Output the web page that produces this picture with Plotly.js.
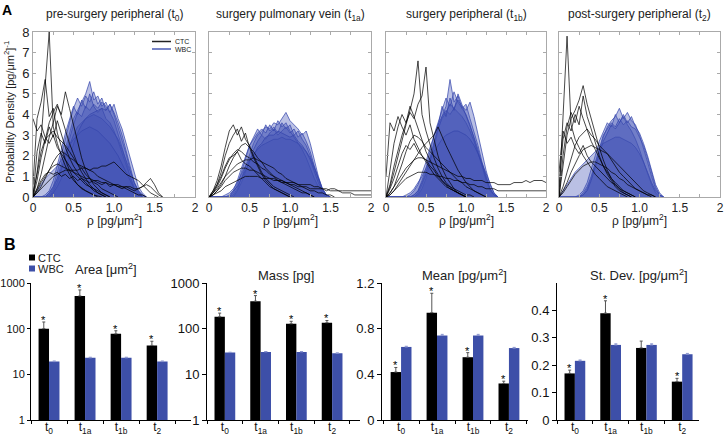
<!DOCTYPE html>
<html><head><meta charset="utf-8">
<script src="https://cdn.plot.ly/plotly-3.0.1.min.js"></script>
<style>html,body{margin:0;padding:0;background:#fff}#chart{width:724px;height:436px}</style>
</head><body><div id="chart"></div>
<script>
// ---------- Panel A data: density curves on a shared rho grid ----------
const rho = [0,0.05,0.1,0.15,0.2,0.25,0.3,0.35,0.4,0.45,0.5,0.55,0.6,0.65,0.7,0.75,0.8,0.85,0.9,0.95,1,1.05,1.1,1.15,1.2,1.25,1.3,1.35,1.4,1.45,1.5,1.55,1.6,1.65,1.7,1.75,1.8,1.85,1.9,1.95,2];
const rhoTicks = [0, 0.5, 1, 1.5, 2];
const rhoTickText = ['0', '0.5', '1.0', '1.5', '2'];

const panelTitles = ['pre-surgery peripheral (t<sub>0</sub>)','surgery pulmonary vein (t<sub>1a</sub>)','surgery peripheral (t<sub>1b</sub>)','post-surgery peripheral (t<sub>2</sub>)'];

const preCTC = [
 [0,1.2,2.8,5.5,8,3.4,2.6,2.0,1.5,1.1,0.8,0.6,0.45,0.3,0.2,0.1,0.05,0],
 [0.6,3.8,4.6,5.7,3.9,4.3,3.1,2.4,1.8,1.3,0.9,0.6,0.4,0.3,0.2,0.1,0],
 [0,0.4,1.1,2.0,2.9,3.6,4.4,4.0,5.1,4.3,3.5,2.6,1.9,1.3,0.9,0.6,0.4,0.2,0.1,0],
 [3.8,3.2,3.5,2.9,2.6,3.0,2.4,2.1,1.8,1.5,1.2,1.0,0.8,0.6,0.5,0.4,0.3,0.2,0.1,0],
 [0,0.8,1.9,2.8,3.6,4.1,4.5,3.9,3.2,2.6,2.1,1.6,1.2,0.9,0.6,0.4,0.2,0.1,0],
 [0,0.3,0.7,1.0,1.3,1.5,1.6,1.5,1.4,1.3,1.2,1.1,1.0,0.9,0.9,0.8,0.8,0.7,0.7,0.6,0.6,0.6,0.5,0.5,0.5,0.4,0.4,0.5,0.6,0.5,0.3,0.1,0],
 [0,0.2,0.5,0.9,1.3,1.7,2.0,2.2,2.1,1.9,1.8,1.6,1.5,1.4,1.3,1.2,1.0,0.9,0.8,0.7,0.6,0.5,0.5,0.4,0.3,0.2,0.1,0.1,0],
 [0.2,1.1,2.2,2.8,3.0,3.2,2.9,2.7,2.5,2.2,1.9,1.6,1.4,1.1,0.9,0.7,0.6,0.4,0.3,0.2,0.1,0],
 [0,0.4,0.8,1.1,1.2,1.1,1.2,1.0,1.1,0.9,1.0,0.8,0.9,0.8,0.7,0.8,0.7,0.6,0.7,0.5,0.6,0.5,0.4,0.5,0.4,0.3,0.4,0.5,0.7,0.9,0.6,0.2,0],
 [0,0.2,0.4,0.6,0.8,1.0,1.1,1.2,1.3,1.3,1.3,1.3,1.4,1.4,1.3,1.4,1.4,1.5,1.5,1.6,1.7,1.5,1.3,1.1,1.0,0.9,0.8,0.6,0.4,0.2,0.1,0],
 [0,2.2,3.1,2.6,3.4,2.9,3.7,3.0,2.4,1.9,1.5,1.2,0.9,0.7,0.5,0.3,0.2,0.1,0]
];
const preWBC = [
 [0,0,0,0,0.1,0.4,0.9,1.6,2.4,3.1,3.8,4.2,4.6,5.0,5.6,4.7,4.9,4.4,4.6,4.1,3.7,3.1,2.4,1.7,1.0,0.5,0.2,0],
 [0,0,0,0,0.2,0.5,1.2,2.0,2.9,3.6,4.3,4.8,4.4,4.9,4.6,5.1,4.5,4.8,4.2,4.5,4.0,3.4,2.8,2.1,1.3,0.7,0.3,0.1,0],
 [0,0,0,0,0,0.3,0.7,1.3,2.1,2.8,3.5,4.1,3.9,4.4,4.2,4.5,4.3,4.6,4.4,4.1,4.5,3.8,3.3,2.6,1.9,1.1,0.5,0.2,0],
 [0,0,0,0.1,0.3,0.8,1.5,2.3,3.1,3.8,4.4,4.0,4.7,4.3,5.0,4.4,4.1,4.3,3.8,3.6,3.2,2.7,2.1,1.5,0.9,0.4,0.1,0],
 [0,0,0,0,0.2,0.5,0.9,1.4,1.9,2.5,3.0,3.4,3.6,3.8,3.9,4.0,3.9,3.8,3.6,3.4,3.1,2.8,2.3,1.8,1.2,0.7,0.3,0.1,0],
 [0,0,0,0,0,0.2,0.5,0.9,1.4,2.0,2.6,3.1,3.5,3.8,4.0,4.1,4.2,4.3,4.2,4.5,4.1,3.6,3.0,2.2,1.4,0.7,0.3,0],
 [0,0.3,0.6,0.9,1.1,1.3,1.5,1.8,2.1,2.5,2.8,3.0,3.2,3.3,3.4,3.3,3.2,3.0,2.8,2.6,2.3,2.0,1.6,1.2,0.8,0.4,0.2,0]
];

const pvCTC = [
 [0,0.3,0.8,1.5,2.4,3.2,3.5,3.0,3.4,2.8,2.5,2.0,1.6,1.2,0.9,0.7,0.5,0.4,0.3,0.2,0.1,0],
 [0,0.2,0.6,1.2,2.0,2.6,3.0,3.3,2.7,3.1,2.4,1.9,1.5,1.1,0.8,0.6,0.4,0.3,0.2,0.1,0],
 [0,0.2,0.5,0.9,1.4,1.8,2.1,2.3,2.2,2.0,1.9,1.7,1.6,1.4,1.3,1.1,1.0,0.9,0.8,0.7,0.6,0.5,0.4,0.3,0.2,0.1,0],
 [0,0.1,0.3,0.5,0.8,1.0,1.2,1.3,1.4,1.4,1.3,1.3,1.2,1.1,1.0,0.9,0.9,0.8,0.7,0.7,0.6,0.6,0.5,0.5,0.5,0.4,0.4,0.4,0.4,0.3,0.4,0.4,0.3,0.3,0.3,0.3,0.3,0.3,0.3,0.3,0.3],
 [0,0.1,0.3,0.6,1.0,1.5,1.9,2.2,2.5,2.6,2.4,2.2,1.9,1.7,1.4,1.2,1.0,0.8,0.7,0.6,0.5,0.4,0.3,0.2,0.2,0.1,0],
 [0,0.2,0.4,0.7,1.0,1.2,1.4,1.6,1.7,1.8,1.8,1.9,1.8,1.7,1.6,1.5,1.4,1.2,1.1,0.9,0.8,0.7,0.6,0.5,0.4,0.3,0.3,0.2,0.2,0.1,0.1,0],
 [0,0.1,0.2,0.3,0.5,0.6,0.7,0.8,0.9,1.0,1.0,1.0,1.0,0.9,0.9,0.9,0.8,0.8,0.8,0.7,0.7,0.7,0.6,0.6,0.6,0.6,0.5,0.5,0.4,0.4,0.3,0.3,0.3,0.2,0.2,0.2,0.1,0.1,0.1,0.1,0.1],
 [0,0.3,0.6,1.0,1.5,1.9,2.0,2.2,1.8,1.6,1.5,1.3,1.1,0.9,0.7,0.5,0.4,0.3,0.2,0.1,0]
];
const pvWBC = [
 [0,0,0,0,0,0,0.1,0.4,0.9,1.5,2.1,2.6,3.0,3.2,3.4,3.3,3.6,3.5,3.8,4.1,3.7,3.5,3.3,3.0,3.2,2.6,1.8,1.0,0.4,0.1,0],
 [0,0,0,0,0,0,0.2,0.6,1.2,1.9,2.5,2.9,3.3,3.0,3.5,3.2,3.4,3.1,3.6,3.3,3.5,3.0,3.2,2.8,2.5,2.0,1.4,0.8,0.3,0.1,0],
 [0,0,0,0,0,0,0,0.3,0.7,1.2,1.8,2.3,2.7,3.0,2.8,3.1,3.3,3.0,3.2,3.4,3.1,3.3,2.9,3.1,2.7,2.2,1.5,0.9,0.4,0.1,0],
 [0,0,0,0,0,0,0.3,0.8,1.4,2.0,2.5,2.8,3.1,3.3,3.1,3.5,3.2,3.7,3.4,3.6,3.2,2.9,2.6,2.3,1.9,1.4,0.9,0.5,0.2,0],
 [0,0,0,0,0.1,0.2,0.4,0.7,1.1,1.5,1.8,2.1,2.3,2.5,2.6,2.7,2.8,2.8,2.9,2.8,2.8,2.7,2.6,2.4,2.2,1.9,1.4,0.9,0.4,0.1,0],
 [0,0,0,0,0,0.1,0.3,0.5,0.9,1.3,1.7,2.0,2.4,2.6,2.9,3.0,3.0,3.2,3.1,3.0,2.9,3.0,2.7,2.5,2.2,1.8,1.2,0.7,0.3,0.1,0]
];

const periCTC = [
 [0,0.5,1.2,2.0,2.8,3.5,4.2,5.0,6.6,4.0,3.2,2.5,1.9,1.4,1.0,0.7,0.5,0.3,0.2,0.1,0],
 [0,0.6,1.5,2.3,3.0,3.6,4.1,3.8,4.5,4.9,6.3,3.6,2.8,2.0,1.4,1.0,0.7,0.4,0.2,0.1,0],
 [1.0,3.6,3.2,3.9,3.4,3.0,3.5,2.8,2.4,2.0,1.7,1.4,1.1,0.9,0.7,0.5,0.4,0.3,0.2,0.1,0],
 [0,1.2,2.6,3.4,4.0,3.6,4.4,3.9,3.3,2.7,2.2,1.8,1.4,1.1,0.8,0.6,0.4,0.3,0.2,0.1,0],
 [0,0.2,0.5,0.8,1.1,1.4,1.6,1.8,1.9,1.9,1.8,1.7,1.6,1.5,1.4,1.3,1.2,1.1,1.0,1.0,0.9,0.9,0.8,0.8,0.8,0.7,0.7,0.7,0.6,0.6,0.6,0.6,0.7,0.7,0.7,0.8,0.7,0.8,0.8,0.8,0.7],
 [0,0.2,0.5,1.0,1.6,2.2,2.7,3.0,2.9,2.7,2.4,2.2,2.0,1.8,1.6,1.4,1.2,1.0,0.8,0.7,0.5,0.4,0.3,0.2,0.1,0],
 [0,0.1,0.3,0.5,0.7,0.9,1.0,1.1,1.2,1.2,1.2,1.1,1.1,1.0,1.0,0.9,0.9,0.8,0.8,0.7,0.7,0.6,0.6,0.5,0.5,0.4,0.4,0.4,0.3,0.3,0.3,0.3,0.3,0.3,0.3,0.3,0.3,0.3,0.3,0.3,0.3],
 [0,0.4,0.9,1.5,2.1,2.5,2.3,2.6,2.2,2.0,1.8,1.5,1.3,1.0,0.8,0.6,0.5,0.4,0.3,0.2,0.1,0.1,0],
 [0,0.1,0.3,0.6,0.9,1.2,1.5,1.8,2.1,2.4,2.6,2.8,3.0,3.4,2.9,2.5,2.1,1.7,1.3,1.0,0.7,0.5,0.3,0.2,0.1,0]
];
const periWBC = [
 [0,0,0,0,0,0,0,0,0.1,0.4,0.9,1.6,2.4,3.2,3.9,4.4,5.7,4.6,4.9,4.3,4.5,3.8,3.2,2.5,1.7,1.0,0.4,0.1,0],
 [0,0,0,0,0,0,0,0.1,0.3,0.8,1.4,2.2,3.0,3.6,4.2,4.8,4.4,5.1,4.6,4.3,4.0,3.5,2.8,2.1,1.4,0.8,0.3,0.1,0],
 [0,0,0,0,0,0,0,0,0.2,0.6,1.1,1.8,2.6,3.3,3.8,4.1,4.5,4.3,4.7,4.4,4.2,4.6,3.9,3.0,2.1,1.3,0.6,0.2,0],
 [0,0,0,0,0,0,0.1,0.3,0.6,1.1,1.7,2.4,3.0,3.5,3.9,4.2,4.0,4.3,4.1,3.9,3.6,3.2,2.7,2.1,1.5,0.9,0.4,0.1,0],
 [0,0,0,0,0,0,0,0.1,0.3,0.7,1.2,1.9,2.7,3.4,4.4,3.9,4.8,4.2,5.0,4.5,3.9,3.4,2.9,2.3,1.6,0.9,0.4,0.1,0],
 [0,0,0,0,0,0.1,0.2,0.4,0.7,1.0,1.4,1.8,2.2,2.5,2.8,3.0,3.1,3.2,3.2,3.1,3.0,2.8,2.5,2.1,1.6,1.1,0.6,0.2,0]
];

const postCTC = [
 [0,4.0,7.8,3.5,2.8,2.4,2.0,1.7,1.4,1.1,0.9,0.7,0.5,0.4,0.3,0.2,0.1,0],
 [0,1.5,3.0,3.8,4.2,4.7,5.4,4.5,3.8,3.0,2.4,1.8,1.3,0.9,0.6,0.4,0.2,0.1,0],
 [0.5,2.8,3.6,3.2,4.0,3.5,4.9,3.9,3.3,2.6,2.0,1.5,1.1,0.8,0.5,0.3,0.2,0.1,0],
 [0,2.0,3.4,4.1,3.6,4.4,3.8,3.2,2.7,2.3,1.9,1.5,1.2,0.9,0.7,0.5,0.3,0.2,0.1,0],
 [0,0.5,1.2,1.9,2.5,2.9,3.1,3.3,3.0,2.8,2.5,2.3,2.1,1.8,1.5,1.2,1.0,0.8,0.6,0.4,0.3,0.2,0.1,0],
 [0,0.3,0.7,1.2,1.6,2.0,2.3,2.4,2.5,2.4,2.3,2.2,2.1,1.9,1.7,1.5,1.3,1.1,0.9,0.7,0.5,0.3,0.2,0.1,0],
 [1.2,3.2,2.6,2.9,2.4,2.1,2.5,2.0,1.7,1.5,1.3,1.1,0.9,0.7,0.6,0.4,0.3,0.2,0.1,0],
 [0,0.2,0.5,0.8,1.1,1.3,1.5,1.6,1.7,1.7,1.6,1.5,1.4,1.2,1.1,0.9,0.8,0.6,0.5,0.4,0.3,0.2,0.1,0.1,0]
];
const postWBC = [
 [0,0,0,0,0,0,0.1,0.4,0.9,1.6,2.3,2.9,3.4,3.7,3.9,4.3,3.8,4.1,3.7,3.5,3.0,2.4,1.7,1.0,0.4,0.1,0],
 [0,0,0,0,0,0.1,0.3,0.7,1.3,2.0,2.7,3.2,3.6,3.4,4.0,3.6,3.9,3.5,3.2,2.8,2.3,1.7,1.1,0.6,0.2,0],
 [0,0,0,0,0,0,0.2,0.5,1.0,1.7,2.4,3.0,3.3,3.6,3.4,3.8,3.5,3.7,3.4,3.3,2.9,2.5,1.9,1.2,0.5,0.1,0],
 [0,0.3,0.6,0.9,1.2,1.4,1.6,1.8,2.0,2.2,2.4,2.6,2.7,2.8,2.9,2.9,2.8,2.7,2.6,2.4,2.1,1.7,1.2,0.7,0.3,0.1,0],
 [0,0,0,0,0,0,0.1,0.3,0.8,1.4,2.1,2.7,3.1,3.5,3.3,3.6,4.0,3.6,3.9,3.4,3.1,2.6,2.0,1.3,0.6,0.2,0]
];

// ---------- Panel B data ----------
const timepoints = ['t<sub>0</sub>','t<sub>1a</sub>','t<sub>1b</sub>','t<sub>2</sub>'];
const areaCTC = [100, 520, 77, 43];
const areaCTCerr = [40, 185, 13, 10];
const areaWBC = [19, 23, 23, 19];
const areaWBCerr = [0.6, 0.7, 0.7, 0.6];
const areaStar = [1, 1, 1, 1];
const massCTC = [182, 400, 128, 135];
const massCTCerr = [37, 130, 17, 16];
const massWBC = [30, 31, 31, 29];
const massWBCerr = [0.5, 0.6, 0.6, 0.5];
const massStar = [1, 1, 1, 1];
const meanCTC = [0.42, 0.94, 0.55, 0.32];
const meanCTCerr = [0.04, 0.17, 0.04, 0.02];
const meanWBC = [0.64, 0.74, 0.74, 0.63];
const meanWBCerr = [0.006, 0.01, 0.01, 0.006];
const meanStar = [1, 1, 1, 1];
const sdCTC = [0.17, 0.39, 0.263, 0.14];
const sdCTCerr = [0.012, 0.045, 0.025, 0.012];
const sdWBC = [0.216, 0.274, 0.274, 0.24];
const sdWBCerr = [0.003, 0.004, 0.004, 0.003];
const sdStar = [1, 1, 0, 1];
const barTitles = ['Area [μm<sup>2</sup>]','Mass [pg]','Mean [pg/μm<sup>2</sup>]','St. Dev. [pg/μm<sup>2</sup>]'];

// ---------- build ----------
const FONT = 'Liberation Sans, Arial, Helvetica, sans-serif';
const CTC_LINE = 'rgba(0,0,0,0.8)';
const WBC_LINE = 'rgba(52,68,172,0.9)';
const WBC_FILL = 'rgba(64,80,180,0.36)';
const BAR_BLUE = '#3d4fa8';
const BARGAP = 0.42;
const W = 724, H = 436;
const px = v => v / W, py = v => 1 - v / H;

const traces = [];
const panelsA = [[preCTC, preWBC],[pvCTC, pvWBC],[periCTC, periWBC],[postCTC, postWBC]];
panelsA.forEach((p, k) => {
  const xa = 'x' + (k ? k + 1 : ''), ya = 'y' + (k ? k + 1 : '');
  p[1].forEach(v => traces.push({type:'scatter', mode:'lines', x: rho.slice(0, v.length), y: v, xaxis: xa, yaxis: ya,
    line:{color: WBC_LINE, width: 0.8}, fill:'tozeroy', fillcolor: WBC_FILL, showlegend:false, hoverinfo:'skip'}));
  p[0].forEach(v => traces.push({type:'scatter', mode:'lines', x: rho.slice(0, v.length), y: v, xaxis: xa, yaxis: ya,
    line:{color: CTC_LINE, width: 0.9}, showlegend:false, hoverinfo:'skip'}));
});

const panelsB = [
  {c: areaCTC, ce: areaCTCerr, w: areaWBC, we: areaWBCerr, s: areaStar, log: true},
  {c: massCTC, ce: massCTCerr, w: massWBC, we: massWBCerr, s: massStar, log: true},
  {c: meanCTC, ce: meanCTCerr, w: meanWBC, we: meanWBCerr, s: meanStar, log: false},
  {c: sdCTC, ce: sdCTCerr, w: sdWBC, we: sdWBCerr, s: sdStar, log: false}
];
const annotations = [];
const zeros = [0,0,0,0];
panelsB.forEach((b, k) => {
  const n = k + 5, xa = 'x' + n, ya = 'y' + n;
  traces.push({type:'bar', name:'CTC', x: timepoints, y: b.c, xaxis: xa, yaxis: ya, marker:{color:'#000'},
    error_y:{type:'data', symmetric:false, array: b.ce, arrayminus: zeros, color:'#555', thickness:1, width:1.5},
    showlegend:false, hoverinfo:'skip'});
  traces.push({type:'bar', name:'WBC', x: timepoints, y: b.w, xaxis: xa, yaxis: ya, marker:{color: BAR_BLUE},
    error_y:{type:'data', symmetric:false, array: b.we, arrayminus: zeros, color:'#8d97cf', thickness:1, width:1.5},
    showlegend:false, hoverinfo:'skip'});
  const off = -(1 - BARGAP) / 4;
  b.s.forEach((s, i) => {
    if (!s) return;
    const top = b.c[i] + b.ce[i];
    annotations.push({xref: xa, yref: ya, x: i + off, y: b.log ? Math.log10(top) : top, text:'*', showarrow:false,
      xanchor:'center', yanchor:'bottom', yshift:-6, font:{size:11, color:'#000'}});
  });
});

// Panel titles, axis titles, panel letters
panelTitles.forEach((t, k) => annotations.push({xref: 'x' + (k ? k + 1 : '') + ' domain', yref:'paper', x:0.5, y: py(15),
  text: t, showarrow:false, font:{size:12, color:'#222'}, xanchor:'center', yanchor:'middle'}));
panelTitles.forEach((t, k) => annotations.push({xref: 'x' + (k ? k + 1 : '') + ' domain', yref:'paper', x:0.5, y: py(220),
  text: 'ρ [pg/μm<sup>2</sup>]', showarrow:false, font:{size:12, color:'#222'}, xanchor:'center', yanchor:'middle'}));
annotations.push({xref:'paper', yref:'paper', x: px(9), y: py(112), text:'Probability Density [pg/μm<sup>2</sup>]<sup>-1</sup>',
  textangle:-90, showarrow:false, xanchor:'center', yanchor:'middle', font:{size:11, color:'#222'}});
annotations.push({xref:'paper', yref:'paper', x: px(0), y: py(0), xanchor:'left', yanchor:'top', text:'<b>A</b>', showarrow:false, font:{size:14, color:'#000'}});
annotations.push({xref:'paper', yref:'paper', x: px(2), y: py(234), xanchor:'left', yanchor:'top', text:'<b>B</b>', showarrow:false, font:{size:16, color:'#000'}});
const titleB = [[106, 269],[286, 275],[464, 275],[639, 275]];
barTitles.forEach((t, k) => annotations.push({xref:'paper', yref:'paper', x: px(titleB[k][0]), y: py(titleB[k][1]), text: t,
  showarrow:false, font:{size:13, color:'#222'}, xanchor:'center', yanchor:'middle'}));
// Legends (A: lines, B: squares)
annotations.push({xref:'paper', yref:'paper', x: px(173), y: py(41.5), xanchor:'left', yanchor:'middle', text:'CTC', showarrow:false, font:{size:7, color:'#222'}});
annotations.push({xref:'paper', yref:'paper', x: px(173), y: py(49), xanchor:'left', yanchor:'middle', text:'WBC', showarrow:false, font:{size:7, color:'#222'}});
annotations.push({xref:'paper', yref:'paper', x: px(36), y: py(257.5), xanchor:'left', yanchor:'middle', text:'CTC', showarrow:false, font:{size:11, color:'#222'}});
annotations.push({xref:'paper', yref:'paper', x: px(36), y: py(268.5), xanchor:'left', yanchor:'middle', text:'WBC', showarrow:false, font:{size:11, color:'#222'}});
const shapes = [
  {type:'line', xref:'paper', yref:'paper', x0: px(152), x1: px(171), y0: py(41.5), y1: py(41.5), line:{color:'#222', width:1.5}},
  {type:'line', xref:'paper', yref:'paper', x0: px(152), x1: px(171), y0: py(49), y1: py(49), line:{color:'#4a5bb5', width:1.5}},
  {type:'rect', xref:'paper', yref:'paper', x0: px(29), x1: px(35), y0: py(254.5), y1: py(260.5), fillcolor:'#000', line:{width:0}},
  {type:'rect', xref:'paper', yref:'paper', x0: px(29), x1: px(35), y0: py(265.5), y1: py(271.5), fillcolor: BAR_BLUE, line:{width:0}}
];

// ---------- axes ----------
const aXdom = [[33,195],[209,371],[386,546],[559,720]];
const aYdom = [py(197), py(32)];
const layout = {
  width: W, height: H, margin:{l:0, r:0, t:0, b:0}, paper_bgcolor:'#fff', plot_bgcolor:'rgba(0,0,0,0)',
  font:{family: FONT, color:'#222'}, showlegend:false, hovermode:false, bargap: BARGAP, bargroupgap: 0,
  annotations, shapes
};
aXdom.forEach((d, k) => {
  const s = k ? k + 1 : '';
  layout['xaxis' + s] = {domain:[px(d[0]), px(d[1])], range:[0, 2], anchor:'y' + s,
    tickmode:'array', tickvals: rhoTicks, ticktext: rhoTickText,
    minor:{dtick:0.25, ticks:'inside', ticklen:3, tickcolor:'#aaa', showgrid:false},
    ticks:'inside', ticklen:3, tickcolor:'#aaa', showline:true, linecolor:'#aaa', linewidth:1, mirror:'ticks',
    showgrid:false, zeroline:false, tickfont:{size:12, color:'#222'}, fixedrange:true};
  layout['yaxis' + s] = {domain: aYdom, range:[0, 8], anchor:'x' + s, dtick:1, showticklabels: k === 0,
    ticks:'inside', ticklen:3, tickcolor:'#aaa', showline:true, linecolor:'#aaa', linewidth:1, mirror:'ticks',
    showgrid:false, zeroline:false, tickfont:{size:13, color:'#222'}, fixedrange:true};
});
const bXdom = [[31,191],[207,360],[382,528],[557,699]];
const bXrange = [[-0.5,3.94],[-0.5,3.78],[-0.53,3.53],[-0.5,3.47]];
const bYdom = [py(420), py(283)];
const bY = [
  {type:'log', range:[0,3], tickvals:[1,10,100,1000], ticktext:['1','10','100','1000'], tickfont:{size:11, color:'#111'}, ticklen:3},
  {type:'log', range:[0,3], tickvals:[1,10,100,1000], ticktext:['1','10','100','1000']},
  {range:[0,1.2], tickvals:[0,0.4,0.8,1.2], ticktext:['0','0.4','0.8','1.2']},
  {range:[0,0.5], tickvals:[0,0.1,0.2,0.3,0.4], ticktext:['0','0.1','0.2','0.3','0.4']}
];
bXdom.forEach((d, k) => {
  const n = k + 5;
  layout['xaxis' + n] = {domain:[px(d[0]), px(d[1])], range: bXrange[k], anchor:'y' + n, type:'category',
    tickson:'boundaries', ticks:'outside', ticklen:3, tickcolor:'#000', showline:true, linecolor:'#000', linewidth:1,
    ticklabelstandoff:-4, showgrid:false, zeroline:false, tickfont:{size:12, color:'#111'}, fixedrange:true};
  layout['yaxis' + n] = Object.assign({domain: bYdom, anchor:'x' + n, ticks:'outside', ticklen:4, tickcolor:'#000',
    showline:true, linecolor:'#000', linewidth:1, showgrid:false, zeroline:false, tickfont:{size:13, color:'#111'},
    fixedrange:true}, bY[k]);
});

Plotly.newPlot('chart', traces, layout, {staticPlot:true, displayModeBar:false});
</script>
</body></html>
